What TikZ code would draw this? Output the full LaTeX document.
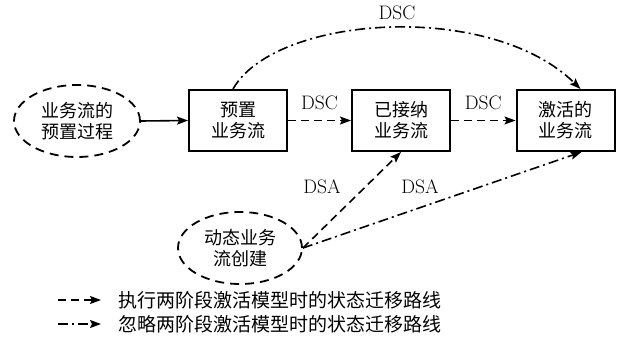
\documentclass[tikz,border=0pt]{standalone}
\usepackage{fontspec}
\newfontfamily\cjk{Noto Sans CJK SC}
\usetikzlibrary{shapes.geometric,arrows.meta,calc}
\begin{document}
\begin{tikzpicture}[x=1pt,y=-1pt,
  box/.style={draw,line width=2pt,minimum width=98pt,minimum height=61pt,inner sep=0pt,align=center,font=\cjk\fontsize{18}{21}\selectfont},
  oval/.style={draw,ellipse,line width=1.8pt,dash pattern=on 9pt off 6pt,minimum width=126pt,minimum height=72pt,inner sep=0pt,align=center,font=\cjk\fontsize{18}{21}\selectfont},
  tip/.style={-{Stealth[length=11pt,width=8pt,inset=2pt]}},
  dsh/.style={tip,line width=1.6pt,dash pattern=on 8pt off 5pt},
  dd/.style={tip,line width=1.6pt,dash pattern=on 10pt off 4pt on 2pt off 4pt},
  lab/.style={font=\fontsize{19.5}{21}\selectfont,inner sep=0pt},
  leg/.style={font=\cjk\fontsize{19}{22}\selectfont,inner sep=0pt,anchor=west}]
\useasboundingbox (0,0) rectangle (618,340);
\node[oval] (e1) at (77,121) {业务流的\\预置过程};
\node[box] (b1) at (238,120.5) {预置\\业务流};
\node[box] (b2) at (401,120.5) {已接纳\\业务流};
\node[box] (b3) at (565.5,120.5) {激活的\\业务流};
\node[oval,minimum width=124pt,minimum height=72pt] (e2) at (240,248) {动态业务\\流创建};
\draw[tip,line width=1.6pt] (e1.east) -- (b1.west);
\draw[dsh] (b1.east) -- node[lab,above=10pt] (dsc1) {DSC} (b2.west);
\draw[dsh] (b2.east) -- node[lab,above=10pt] (dsc2) {DSC} (b3.west);
\draw[dd] ($(b1.north)+(-5,0)$) .. controls (275,15) and (490,0) .. ($(b3.north)+(15,0)$);
\node[lab] (dsc0) at (397,13) {DSC};
\draw[dsh] (e2.east) -- (b2.south);
\draw[dd] (e2.east) -- ($(b3.south)+(16,0)$);
\node[lab] (dsa1) at (322,187) {DSA};
\node[lab] (dsa2) at (420,187) {DSA};
\node[leg] (l1) at (118,300) {执行两阶段激活模型时的状态迁移路线};
\node[leg] (l2) at (118,324) {忽略两阶段激活模型时的状态迁移路线};
\coordinate (l1s) at (58,300);
\coordinate (l2s) at (58,324);
\draw[dsh] (l1s) -- ($(l1.west)+(-17,0)$);
\draw[dd] (l2s) -- ($(l2.west)+(-17,0)$);
\end{tikzpicture}
\end{document}
